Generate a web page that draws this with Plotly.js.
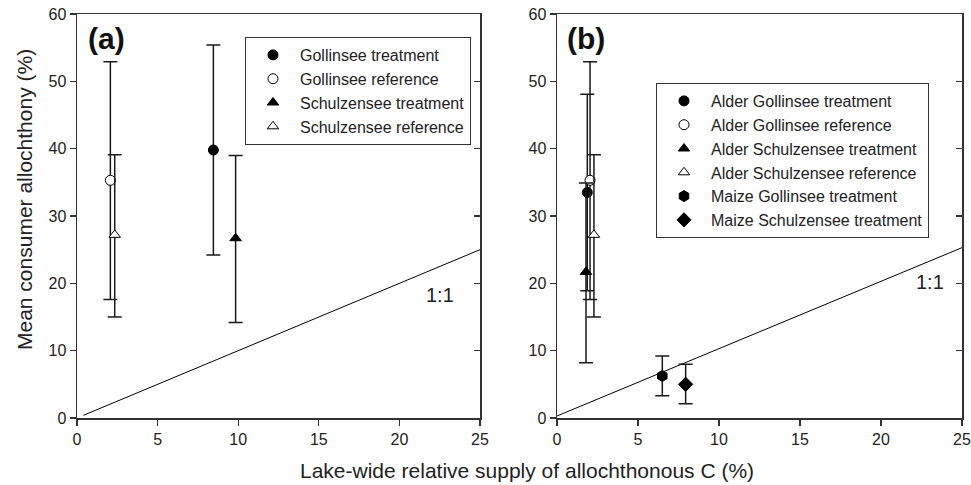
<!DOCTYPE html>
<html>
<head>
<meta charset="utf-8">
<script src="https://cdn.plot.ly/plotly-3.0.1.min.js"></script>
<style>html,body{margin:0;padding:0;background:#fff;}#chart{width:971px;height:485px;}</style>
</head>
<body>
<div id="chart"></div>
<script>
// ---- Panel (a) data ----
const namesA = ["Gollinsee treatment", "Gollinsee reference", "Schulzensee treatment", "Schulzensee reference"];
const xA = [8.46, 2.07, 9.84, 2.34];
const yA = [39.8, 35.3, 26.7, 27.2];
const upA = [55.4, 52.9, 39.0, 39.1];
const loA = [24.2, 17.6, 14.2, 15.0];

// ---- Panel (b) data ----
const namesB = ["Alder Gollinsee treatment", "Alder Gollinsee reference", "Alder Schulzensee treatment",
                "Alder Schulzensee reference", "Maize Gollinsee treatment", "Maize Schulzensee treatment"];
const xB = [1.87, 2.04, 1.79, 2.28, 6.5, 7.94];
const yB = [33.5, 35.3, 21.7, 27.2, 6.25, 5.0];
const upB = [48.1, 52.9, 34.9, 39.1, 9.2, 8.0];
const loB = [18.9, 17.6, 8.2, 15.0, 3.3, 2.1];

// ---- 1:1 lines ----
const oneXA = [0.4, 25], oneYA = [0.4, 25];
const oneXB = [0, 25], oneYB = [0.3, 25.3];

// ---- ticks ----
const xTicks = [0, 5, 10, 15, 20, 25];
const yTicks = [0, 10, 20, 30, 40, 50, 60];

const FONT = "Liberation Sans, Arial, Helvetica, sans-serif";
const symA = ["circle", "circle", "triangle-up", "triangle-up"];
const fillA = ["#000", "#fff", "#000", "#fff"];
const symB = ["circle", "circle", "triangle-up", "triangle-up", "hexagon", "diamond"];
const fillB = ["#000", "#fff", "#000", "#fff", "#000", "#000"];

function pointTrace(name, x, y, up, lo, sym, fill, xa, ya, leg) {
  return {
    type: "scatter", mode: "markers", name: name,
    x: [x], y: [y], xaxis: xa, yaxis: ya, legend: leg,
    marker: {symbol: sym, size: (sym === "diamond" || sym === "hexagon") ? 11 : 10, color: fill,
             line: {color: "#000", width: 1}},
    error_y: {type: "data", symmetric: false, array: [up - y], arrayminus: [y - lo],
              color: "#1a1a1a", thickness: 1.5, width: 7},
    cliponaxis: false
  };
}

const traces = [];
traces.push({type: "scatter", mode: "lines", x: oneXA, y: oneYA, xaxis: "x", yaxis: "y",
             line: {color: "#000", width: 1}, showlegend: false, hoverinfo: "skip"});
traces.push({type: "scatter", mode: "lines", x: oneXB, y: oneYB, xaxis: "x2", yaxis: "y2",
             line: {color: "#000", width: 1}, showlegend: false, hoverinfo: "skip"});
for (let i = 0; i < namesA.length; i++) {
  traces.push(pointTrace(namesA[i], xA[i], yA[i], upA[i], loA[i], symA[i], fillA[i], "x", "y", "legend"));
}
for (let i = 0; i < namesB.length; i++) {
  traces.push(pointTrace(namesB[i], xB[i], yB[i], upB[i], loB[i], symB[i], fillB[i], "x2", "y2", "legend2"));
}
// invisible traces to host inside right-side ticks
traces.push({type: "scatter", mode: "markers", x: [0], y: [0], xaxis: "x", yaxis: "y3",
             marker: {opacity: 0}, showlegend: false, hoverinfo: "skip"});
traces.push({type: "scatter", mode: "markers", x: [0], y: [0], xaxis: "x2", yaxis: "y4",
             marker: {opacity: 0}, showlegend: false, hoverinfo: "skip"});

const axisLine = "#333";
function xAxis(dom, anchor) {
  return {domain: dom, anchor: anchor, range: [0, 25], tickvals: xTicks, ticktext: xTicks.map(String),
          showgrid: false, zeroline: false, showline: true, linecolor: axisLine, linewidth: 1.5,
          mirror: true, ticks: "outside", ticklen: 6, tickwidth: 1.2, tickcolor: axisLine,
          tickfont: {family: FONT, size: 16, color: "#222"}, fixedrange: true};
}
function yAxis(anchor) {
  return {anchor: anchor, range: [0, 60], tickvals: yTicks, ticktext: yTicks.map(String),
          showgrid: false, zeroline: false, showline: true, linecolor: axisLine, linewidth: 1.5,
          mirror: true, ticks: "outside", ticklen: 6, tickwidth: 1.2, tickcolor: axisLine,
          tickfont: {family: FONT, size: 16, color: "#222"}, fixedrange: true};
}
function rightTicks(over, anchor) {
  return {overlaying: over, anchor: anchor, side: "right", range: [0, 60], tickvals: yTicks,
          showticklabels: false, showgrid: false, zeroline: false, showline: false,
          ticks: "inside", ticklen: 6, tickwidth: 1.2, tickcolor: axisLine, fixedrange: true};
}

const W = 971, T = 14, B = 418;
const px = v => v / W;
const py = v => (B - v) / (B - T);

const legendStyle = {bordercolor: "#333", borderwidth: 1, bgcolor: "#fff",
                     font: {family: FONT, size: 16, color: "#222"}, xanchor: "left", yanchor: "top",
                     tracegroupgap: 0, itemwidth: 44};

const layout = {
  width: 971, height: 485,
  margin: {l: 0, r: 0, t: T, b: 485 - B},
  paper_bgcolor: "#fff", plot_bgcolor: "#fff",
  font: {family: FONT, color: "#222"},
  xaxis: xAxis([px(77), px(480)], "y"),
  yaxis: yAxis("x"),
  xaxis2: xAxis([px(557), px(962)], "y2"),
  yaxis2: yAxis("x2"),
  yaxis3: rightTicks("y", "x"),
  yaxis4: rightTicks("y2", "x2"),
  legend: Object.assign({}, legendStyle, {x: px(245), y: py(37)}),
  legend2: Object.assign({}, legendStyle, {x: px(656), y: py(83)}),
  annotations: [
    {text: "<b>(a)</b>", xref: "paper", yref: "paper", x: px(86), y: py(38), xanchor: "left", yanchor: "middle",
     showarrow: false, font: {family: FONT, size: 30, color: "#111"}},
    {text: "<b>(b)</b>", xref: "paper", yref: "paper", x: px(565), y: py(38), xanchor: "left", yanchor: "middle",
     showarrow: false, font: {family: FONT, size: 30, color: "#111"}},
    {text: "1:1", xref: "x", yref: "y", x: 22.5, y: 18.3, showarrow: false,
     font: {family: FONT, size: 20, color: "#222"}},
    {text: "1:1", xref: "x2", yref: "y2", x: 23.0, y: 20.2, showarrow: false,
     font: {family: FONT, size: 20, color: "#222"}},
    {text: "Mean consumer allochthony (%)", xref: "paper", yref: "paper", x: px(24), y: py(200),
     textangle: -90, showarrow: false, xanchor: "center", yanchor: "middle",
     font: {family: FONT, size: 21, color: "#222"}},
    {text: "Lake-wide relative supply of allochthonous C (%)", xref: "paper", yref: "paper",
     x: px(527), y: py(470), showarrow: false, xanchor: "center", yanchor: "middle",
     font: {family: FONT, size: 21, color: "#222"}}
  ]
};

Plotly.newPlot("chart", traces, layout, {displayModeBar: false, staticPlot: true});
</script>
</body>
</html>
